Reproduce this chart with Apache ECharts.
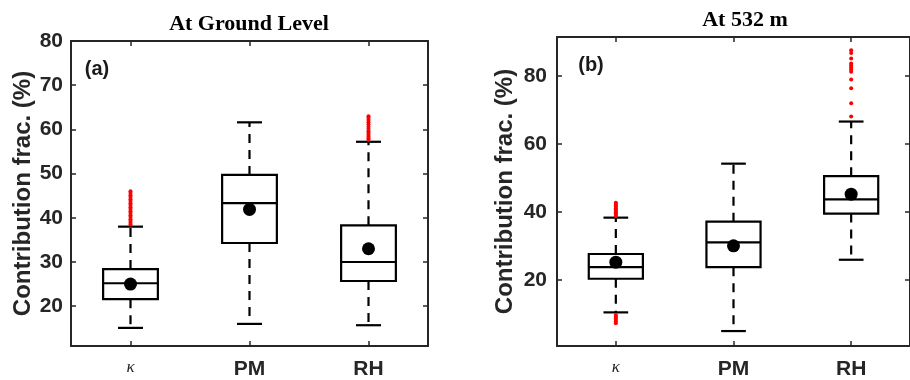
<!DOCTYPE html>
<html><head><meta charset="utf-8">
<script src="https://cdn.jsdelivr.net/npm/echarts@6/dist/echarts.min.js"></script>
<style>html,body{margin:0;padding:0;background:#fff}#c{width:910px;height:380px}</style>
</head><body><div id="c"></div>
<script>
const categories = ['κ', 'PM', 'RH'];
// each box: [lower whisker, Q1, median, Q3, upper whisker]
const groundBoxes = [[15.1, 21.6, 25.2, 28.4, 38.0], [16.0, 34.3, 43.3, 49.7, 61.6], [15.7, 25.7, 30.0, 38.3, 57.2]];
const groundMeans = [25.0, 41.9, 33.0];
const groundOutliersK = [38.5, 38.9, 39.3, 39.7, 40.2, 40.6, 41.1, 41.5, 42.0, 42.4, 42.9, 43.3, 43.8, 44.2, 44.7, 45.1, 45.6, 46.0];
const groundOutliersPM = [];
const groundOutliersRH = [57.6, 58.0, 58.4, 58.8, 59.2, 59.6, 60.1, 60.6, 61.1, 61.6, 62.1, 62.6, 63.0];
const m532Boxes = [[10.4, 20.3, 23.7, 27.6, 38.3], [4.9, 23.7, 31.0, 37.1, 54.2], [25.9, 39.5, 43.7, 50.5, 66.6]];
const m532Means = [25.2, 30.0, 45.2];
const m532OutliersK = [7.2, 7.7, 8.2, 8.7, 9.2, 9.6, 38.7, 39.1, 39.5, 39.9, 40.3, 40.7, 41.1, 41.5, 41.9, 42.3, 42.7];
const m532OutliersPM = [];
const m532OutliersRH = [68.1, 72.0, 76.4, 79.0, 81.3, 81.9, 82.5, 83.1, 83.7, 85.2, 86.8, 87.6];
const groundTicks = [20, 30, 40, 50, 60, 70, 80];
const m532Ticks = [20, 40, 60, 80];
const groundRange = [11, 80];
const m532Range = [0.5, 91.5];

const AX = '#262626';
function boxData(boxes) { return boxes.map((b, i) => [i].concat(b)); }
function meanData(means) { return means.map((m, i) => [i, m]); }
function outData(lists) { const r = []; lists.forEach((l, i) => l.forEach(v => r.push([i, v]))); return r; }

function renderBox(params, api) {
  const i = api.value(0);
  const low = api.coord([i, api.value(1)]);
  const q1 = api.coord([i, api.value(2)]);
  const med = api.coord([i, api.value(3)]);
  const q3 = api.coord([i, api.value(4)]);
  const high = api.coord([i, api.value(5)]);
  const band = api.size([1, 0])[0];
  const bw = band * 0.46, cw = band * 0.21;
  const x = low[0];
  const solid = { stroke: '#000', lineWidth: 2.2, fill: null };
  const dash = { stroke: '#000', lineWidth: 2.2, lineDash: [9, 7] };
  return { type: 'group', children: [
    { type: 'line', shape: { x1: x, y1: q3[1], x2: x, y2: high[1] }, style: dash },
    { type: 'line', shape: { x1: x, y1: q1[1], x2: x, y2: low[1] }, style: dash },
    { type: 'line', shape: { x1: x - cw / 2, y1: high[1], x2: x + cw / 2, y2: high[1] }, style: solid },
    { type: 'line', shape: { x1: x - cw / 2, y1: low[1], x2: x + cw / 2, y2: low[1] }, style: solid },
    { type: 'rect', shape: { x: x - bw / 2, y: q3[1], width: bw, height: q1[1] - q3[1] }, style: { stroke: '#000', lineWidth: 2.2, fill: '#fff' } },
    { type: 'line', shape: { x1: x - bw / 2, y1: med[1], x2: x + bw / 2, y2: med[1] }, style: solid }
  ] };
}

function xAx(gi, pos) {
  return {
    type: 'category', gridIndex: gi, data: categories, position: pos,
    axisLine: { show: true, onZero: false, lineStyle: { color: AX, width: 2 } },
    axisTick: { show: true, inside: true, alignWithLabel: true, length: 5, lineStyle: { color: AX, width: 1.5 } },
    axisLabel: pos === 'bottom' ? {
      show: true, margin: 13, color: AX, fontFamily: 'Liberation Sans', fontWeight: 'bold', fontSize: 21,
      formatter: v => v === 'κ' ? '{k|κ}' : v,
      rich: { k: { fontFamily: 'Liberation Serif', fontStyle: 'italic', fontWeight: 'normal', fontSize: 17, color: AX } }
    } : { show: false },
    splitLine: { show: false }
  };
}
function yAx(gi, pos, range, ticks, margin, nameGap) {
  return {
    type: 'value', gridIndex: gi, position: pos, min: range[0], max: range[1],
    name: pos === 'left' ? 'Contribution frac. (%)' : '',
    nameLocation: 'middle', nameGap: nameGap,
    nameTextStyle: { fontFamily: 'Liberation Sans', fontWeight: 'bold', fontSize: 24, color: AX },
    axisLine: { show: true, lineStyle: { color: AX, width: 2 } },
    axisTick: { show: true, inside: true, length: 5, customValues: ticks, lineStyle: { color: AX, width: 1.5 } },
    axisLabel: pos === 'left' ? { show: true, margin: margin, customValues: ticks, color: AX, fontFamily: 'Liberation Sans', fontWeight: 'bold', fontSize: 21 } : { show: false },
    splitLine: { show: false }
  };
}

const chart = echarts.init(document.getElementById('c'), null, { renderer: 'canvas' });
const series = [];
[[groundBoxes, groundMeans, [groundOutliersK, groundOutliersPM, groundOutliersRH], 0],
 [m532Boxes, m532Means, [m532OutliersK, m532OutliersPM, m532OutliersRH], 2]].forEach(([boxes, means, outs, ai]) => {
  series.push({ type: 'custom', xAxisIndex: ai, yAxisIndex: ai, renderItem: renderBox, data: boxData(boxes), encode: { x: 0, y: [1, 2, 3, 4, 5] }, z: 2, silent: true });
  series.push({ type: 'scatter', xAxisIndex: ai, yAxisIndex: ai, data: outData(outs), symbol: 'circle', symbolSize: 4, itemStyle: { color: '#ff0000', opacity: 1 }, z: 3, silent: true });
  series.push({ type: 'scatter', xAxisIndex: ai, yAxisIndex: ai, data: meanData(means), symbol: 'circle', symbolSize: 13, itemStyle: { color: '#000', opacity: 1 }, z: 4, silent: true });
});

chart.setOption({
  animation: false,
  backgroundColor: '#fff',
  grid: [
    { left: 71, top: 41, width: 357, height: 308, containLabel: false },
    { left: 557, top: 37, width: 360, height: 311, containLabel: false }
  ],
  xAxis: [xAx(0, 'bottom'), xAx(0, 'top'), xAx(1, 'bottom'), xAx(1, 'top')],
  yAxis: [
    yAx(0, 'left', groundRange, groundTicks, 8, 36), yAx(0, 'right', groundRange, groundTicks, 8, 36),
    yAx(1, 'left', m532Range, m532Ticks, 10, 40), yAx(1, 'right', m532Range, m532Ticks, 10, 40)
  ],
  graphic: [
    { type: 'text', x: 249, y: 24, style: { text: 'At Ground Level', fontFamily: 'Liberation Serif', fontWeight: 'bold', fontSize: 22, fill: '#000', textAlign: 'center', textVerticalAlign: 'middle' } },
    { type: 'text', x: 745, y: 20, style: { text: 'At 532 m', fontFamily: 'Liberation Serif', fontWeight: 'bold', fontSize: 22, fill: '#000', textAlign: 'center', textVerticalAlign: 'middle' } },
    { type: 'text', x: 97, y: 69, style: { text: '(a)', fontFamily: 'Liberation Sans', fontWeight: 'bold', fontSize: 20, fill: '#1a1a1a', textAlign: 'center', textVerticalAlign: 'middle' } },
    { type: 'text', x: 591, y: 65, style: { text: '(b)', fontFamily: 'Liberation Sans', fontWeight: 'bold', fontSize: 20, fill: '#1a1a1a', textAlign: 'center', textVerticalAlign: 'middle' } }
  ],
  series: series
});
</script></body></html>
